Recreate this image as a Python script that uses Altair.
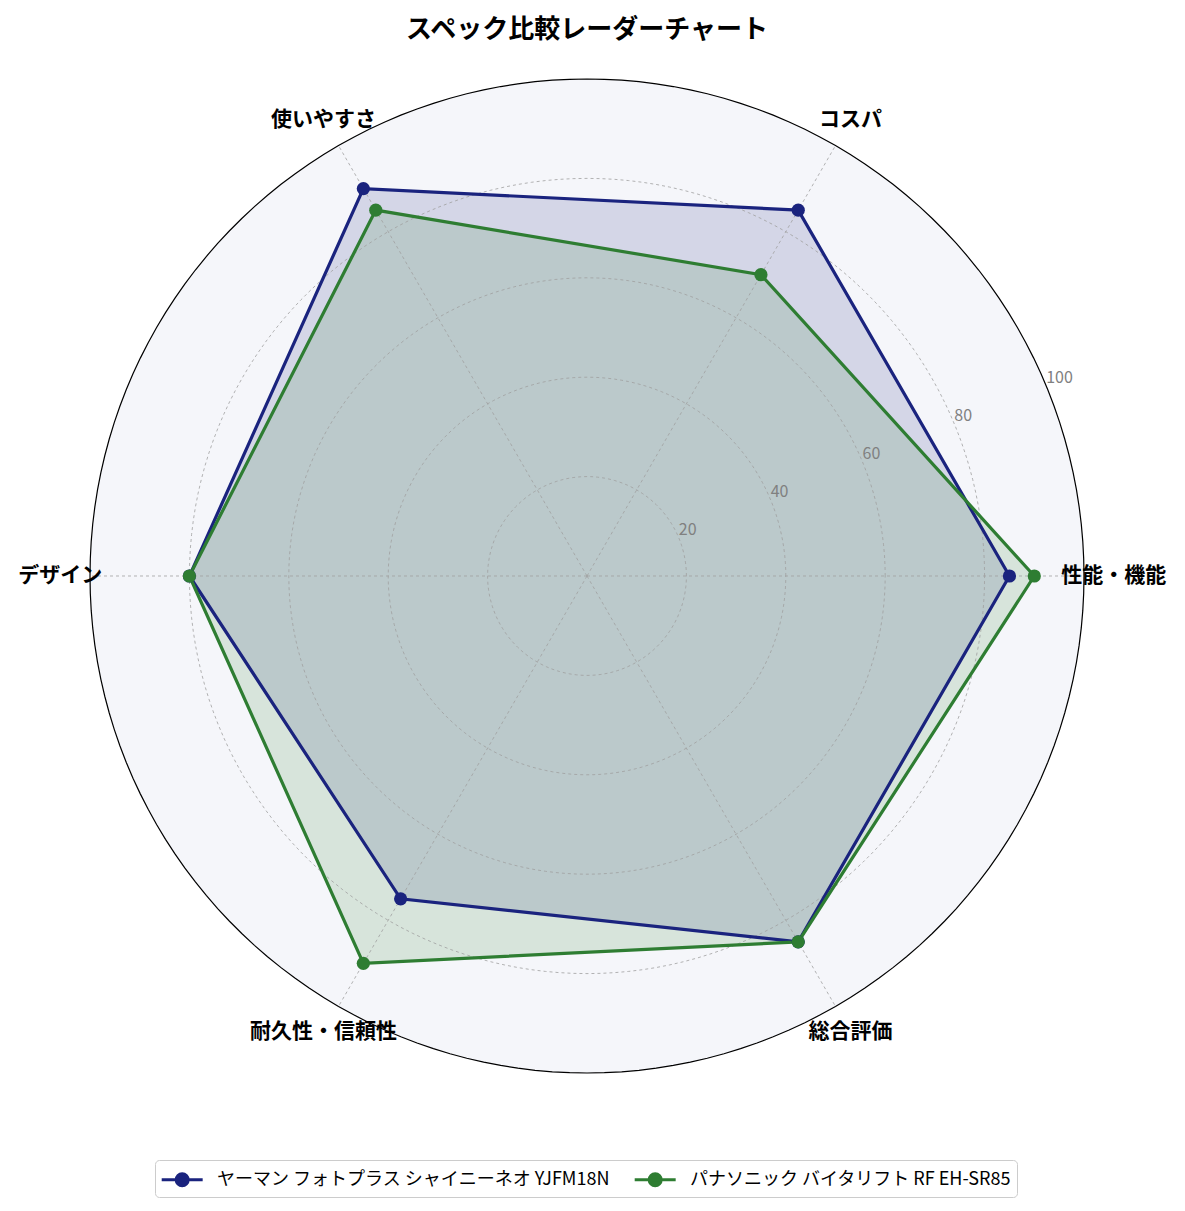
import altair as alt
import pandas as pd

categories = ["性能・機能", "コスパ", "使いやすさ", "デザイン", "耐久性・信頼性", "総合評価"]
series_names = ["ヤーマン フォトプラス シャイニーネオ YJFM18N", "パナソニック バイタリフト RF EH-SR85"]
yaman_values = [85, 85, 90, 80, 75, 85]
pana_values = [90, 70, 85, 80, 90, 85]
series_colors = ["#1a237e", "#2e7d32"]
tick_values = [20, 40, 60, 80]
outer_value = 100
label_radius = 106

JP = "Noto Sans CJK JP"

# series table (closed polygon: repeat first point)
rows = []
for name, vals in zip(series_names, [yaman_values, pana_values]):
    n = len(vals)
    for k in range(n + 1):
        i = k % n
        rows.append({"series": name, "cat": categories[i], "i": i, "k": k, "value": vals[i]})
series_df = pd.DataFrame(rows)

# gridline circles
circ_rows = []
for r in tick_values + [outer_value]:
    for k in range(0, 181):
        circ_rows.append({"r": r, "k": k})
circ_df = pd.DataFrame(circ_rows)

spoke_df = pd.DataFrame([{"i": i, "r": r} for i in range(len(categories)) for r in (0, outer_value)])
label_df = pd.DataFrame([{"cat": c, "i": i, "r": label_radius} for i, c in enumerate(categories)])
tick_df = pd.DataFrame({"r": tick_values + [outer_value], "label": [str(t) for t in tick_values + [outer_value]]})

xs = alt.Scale(domain=[-116.5, 116.5], nice=False, zero=False)
ys = alt.Scale(domain=[-113.48, 103.82], nice=False, zero=False)
X = alt.X("x:Q", scale=xs, axis=None)
Y = alt.Y("y:Q", scale=ys, axis=None)

ncat = len(categories)
CAT_ANGLE = f"datum.i*2*PI/{ncat}"
CIRC_ANGLE = "datum.k*2*PI/180"


def polar(chart, rfield, angle_expr):
    return chart.transform_calculate(
        ang=angle_expr
    ).transform_calculate(
        x=f"datum.{rfield}*cos(datum.ang)", y=f"datum.{rfield}*sin(datum.ang)"
    )


# background disc
bg = polar(alt.Chart(circ_df), "r", CIRC_ANGLE).transform_filter(
    f"datum.r == {outer_value}"
).mark_line(fill="#f5f6fa", strokeWidth=0).encode(x=X, y=Y, order="k:Q")

grid = polar(alt.Chart(circ_df), "r", CIRC_ANGLE).transform_filter(
    f"datum.r < {outer_value}"
).mark_line(stroke="#a0a0a0", strokeWidth=0.8, strokeDash=[3, 3]).encode(
    x=X, y=Y, order="k:Q", detail="r:N"
)

outer = polar(alt.Chart(circ_df), "r", CIRC_ANGLE).transform_filter(
    f"datum.r == {outer_value}"
).mark_line(stroke="#000000", strokeWidth=1.2).encode(x=X, y=Y, order="k:Q")

spokes = polar(alt.Chart(spoke_df), "r", CAT_ANGLE).mark_line(
    stroke="#a0a0a0", strokeWidth=0.8, strokeDash=[3, 3]
).encode(x=X, y=Y, order="r:Q", detail="i:N")

fills = []
for name, col in zip(series_names, series_colors):
    fills.append(
        polar(alt.Chart(series_df), "value", CAT_ANGLE)
        .transform_filter(alt.datum.series == name)
        .mark_line(fill=col, fillOpacity=0.15, strokeWidth=0)
        .encode(x=X, y=Y, order="k:Q")
    )

color = alt.Color(
    "series:N",
    scale=alt.Scale(domain=series_names, range=series_colors),
    sort=series_names,
    legend=alt.Legend(
        title=None,
        orient="none",
        legendX=147,
        legendY=1100,
        direction="horizontal",
        labelFont=JP,
        labelFontSize=18,
        labelColor="#000000",
        labelLimit=0,
        labelOffset=28,
        symbolType="M-1,0H2.2M0.13,0A0.47,0.47,0,1,0,1.07,0A0.47,0.47,0,1,0,0.13,0Z",
        symbolSize=656,
        symbolStrokeWidth=3,
        symbolOpacity=1,
        strokeColor="#cccccc",
        fillColor="#ffffff",
        padding=5,
        cornerRadius=4,
        columnPadding=18,
    ),
)

lines = polar(alt.Chart(series_df), "value", CAT_ANGLE).mark_line(
    strokeWidth=3.2
).encode(x=X, y=Y, order="k:Q", color=color)

points = polar(alt.Chart(series_df), "value", CAT_ANGLE).transform_filter(
    f"datum.k < {ncat}"
).mark_point(filled=True, size=175, opacity=1).encode(x=X, y=Y, color=color)

cat_labels = polar(alt.Chart(label_df), "r", CAT_ANGLE).mark_text(
    font=JP, fontSize=21, fontWeight="bold", color="#000000", align="center", baseline="middle"
).encode(x=X, y=Y, text="cat:N")

tick_labels = polar(alt.Chart(tick_df), "r", "22.5*PI/180").mark_text(
    font=JP, fontSize=16, color="#808080", align="left", baseline="bottom", dy=0
).encode(x=X, y=Y, text="label:N")

chart = alt.layer(
    bg, *fills, grid, spokes, outer, lines, points, tick_labels, cat_labels
).properties(
    width=1158,
    height=1080,
    background="#ffffff",
    title=alt.Title(
        "スペック比較レーダーチャート",
        font=JP, fontSize=26, fontWeight="bold", color="#000000", anchor="middle", offset=17,
    ),
    autosize=alt.AutoSizeParams(type="none"),
    padding={"left": 0, "top": 52, "right": 11, "bottom": 70},
).configure_view(strokeWidth=0, stroke="transparent")

chart.save("out.html", embed_options={"renderer": "svg", "actions": False})
